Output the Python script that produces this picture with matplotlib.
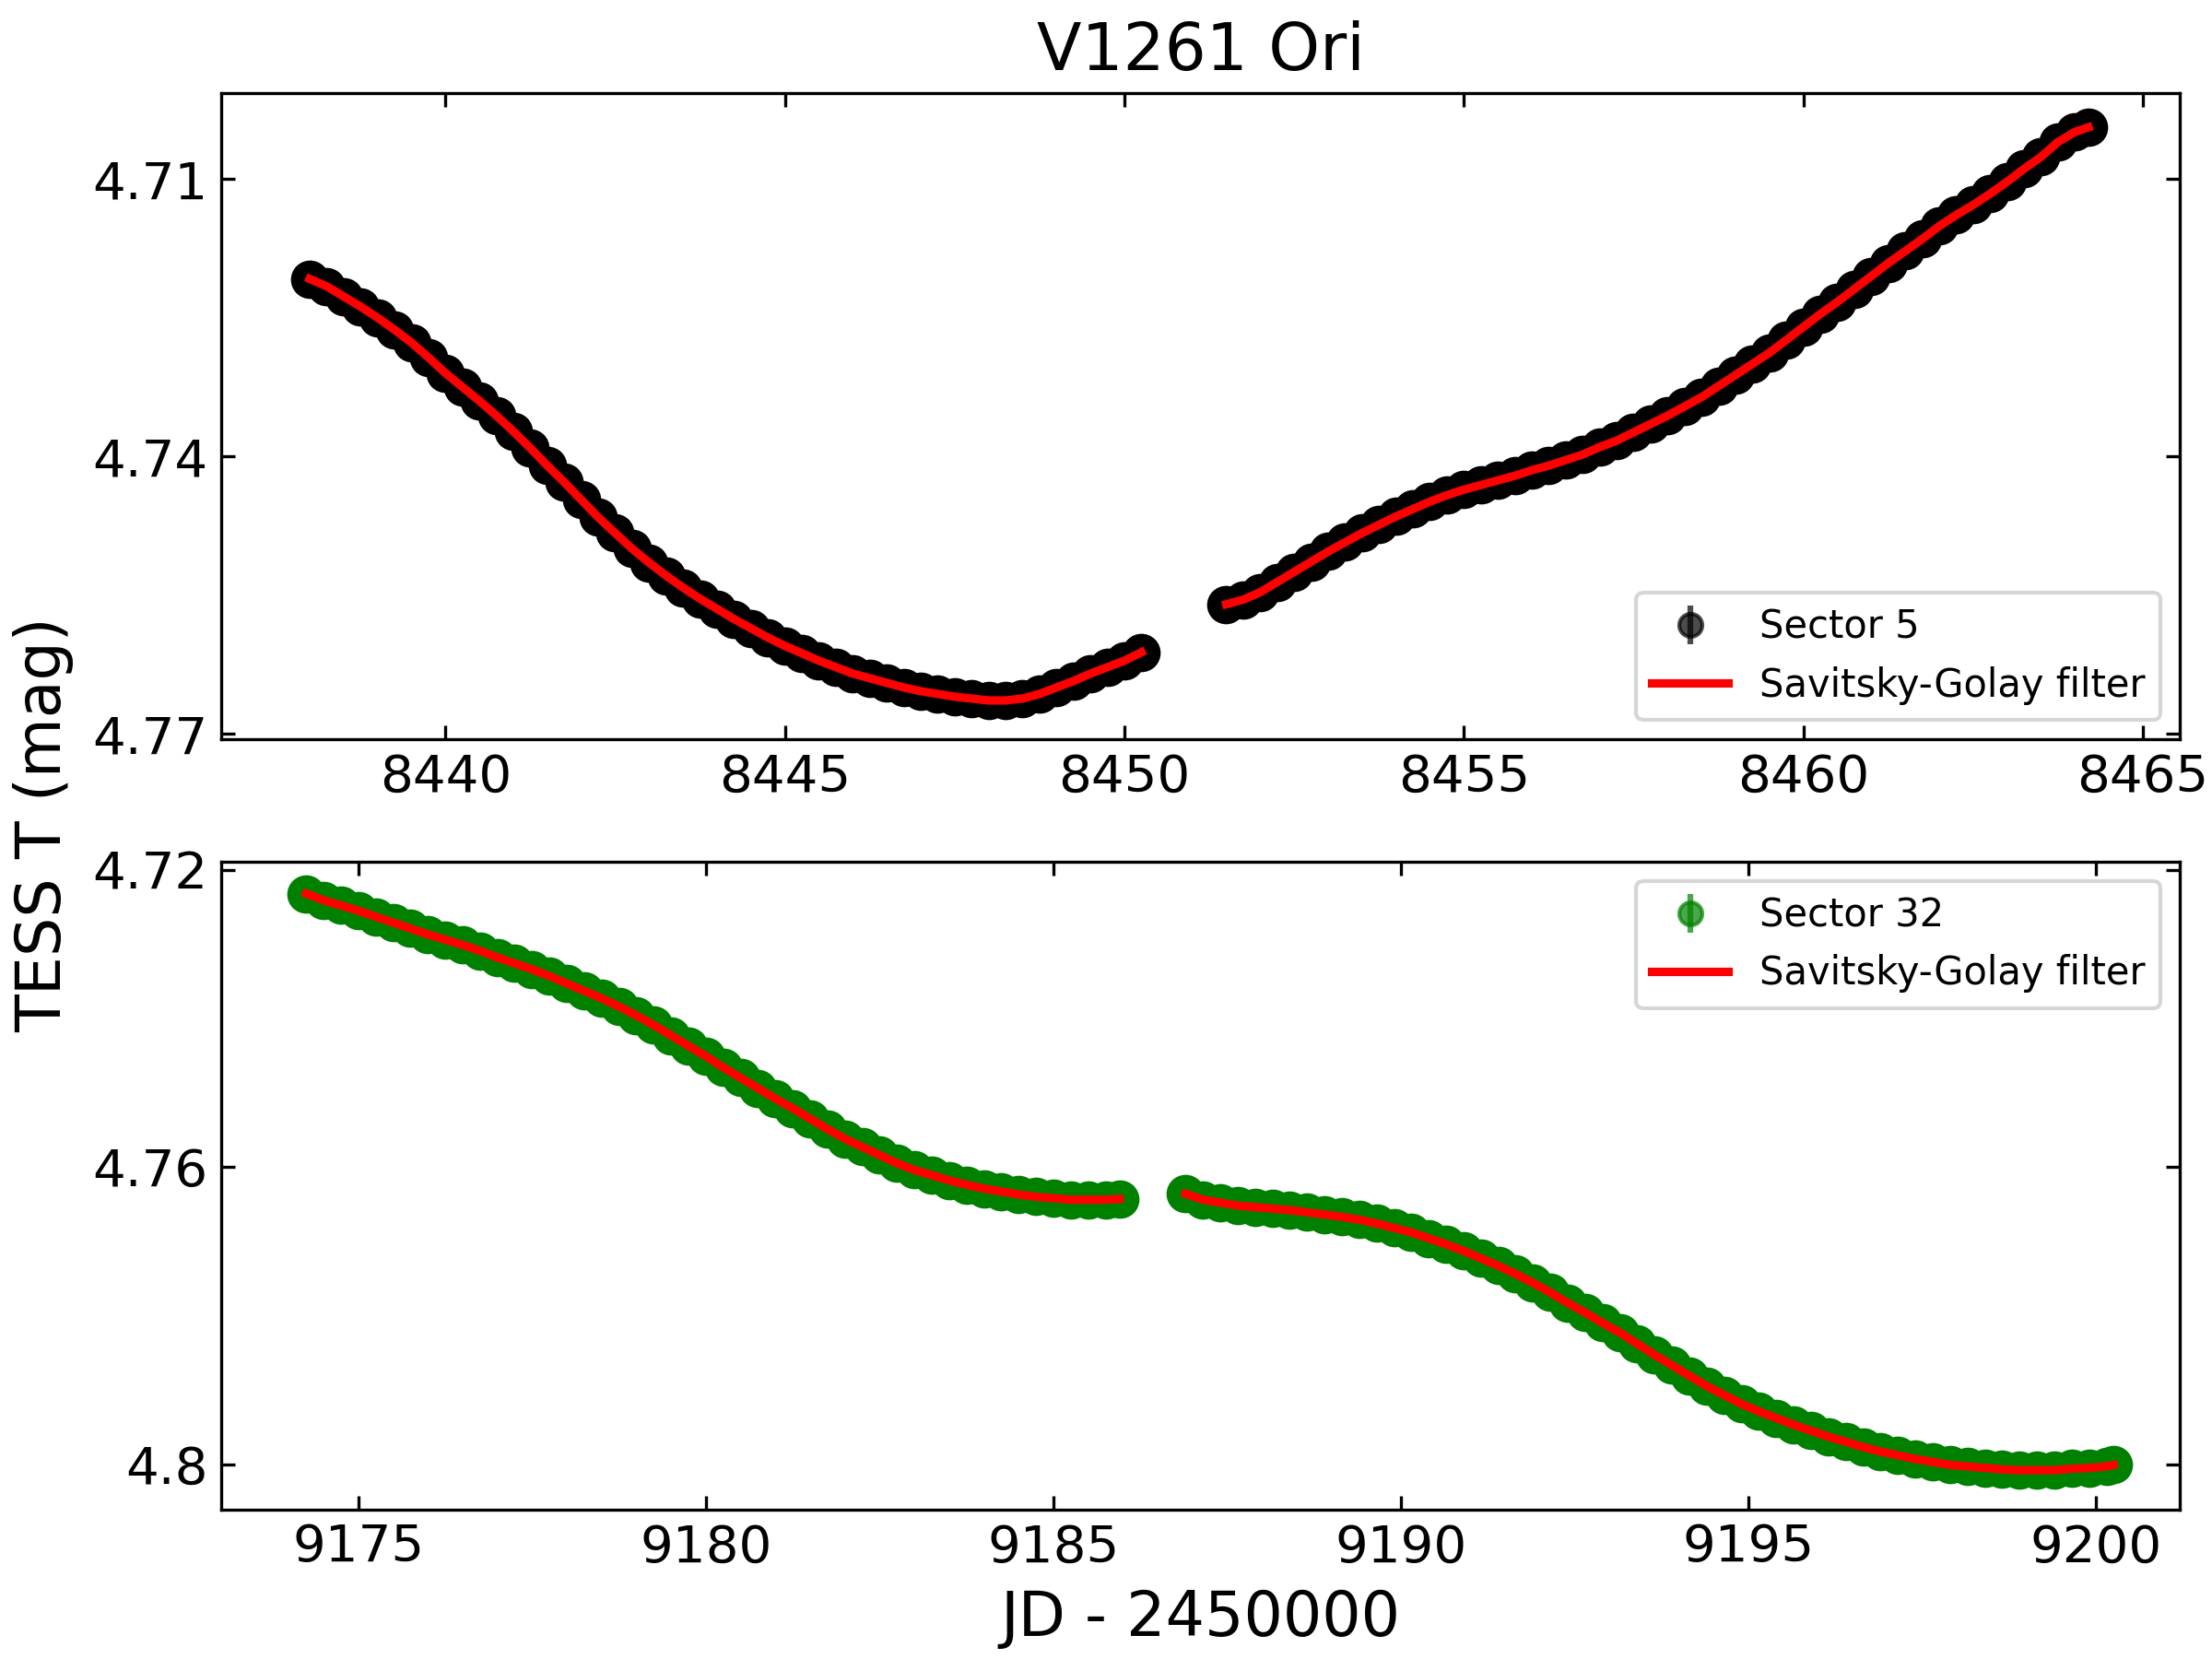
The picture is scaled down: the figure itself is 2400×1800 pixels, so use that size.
import matplotlib
matplotlib.use('Agg')
import matplotlib.pyplot as plt

# Sector 5, first orbit
t_s5a = [8438.00, 8438.25, 8438.50, 8438.75, 8439.00, 8439.25, 8439.50, 8439.75,
         8440.00, 8440.25, 8440.50, 8440.75, 8441.00, 8441.25, 8441.50, 8441.75,
         8442.00, 8442.25, 8442.50, 8442.75, 8443.00, 8443.25, 8443.50, 8443.75,
         8444.00, 8444.25, 8444.50, 8444.75, 8445.00, 8445.25, 8445.50, 8445.75,
         8446.00, 8446.25, 8446.50, 8446.75, 8447.00, 8447.25, 8447.50, 8447.75,
         8448.00, 8448.25, 8448.50, 8448.75, 8449.00, 8449.25, 8449.50, 8449.75,
         8450.00, 8450.25]
m_s5a = [4.7208, 4.7216, 4.7227, 4.7238, 4.7250, 4.7263, 4.7277, 4.7293,
         4.7310, 4.7325, 4.7340, 4.7356, 4.7373, 4.7391, 4.7410, 4.7428,
         4.7447, 4.7466, 4.7483, 4.7500, 4.7515, 4.7529, 4.7542, 4.7554,
         4.7565, 4.7576, 4.7586, 4.7596, 4.7605, 4.7613, 4.7621, 4.7628,
         4.7635, 4.7640, 4.7645, 4.7650, 4.7654, 4.7657, 4.7660, 4.7662,
         4.7664, 4.7664, 4.7662, 4.7657, 4.7650, 4.7643, 4.7635, 4.7628,
         4.7621, 4.7612]

# Sector 5, second orbit
t_s5b = [8451.50, 8451.75, 8452.00, 8452.25, 8452.50, 8452.75, 8453.00, 8453.25,
         8453.50, 8453.75, 8454.00, 8454.25, 8454.50, 8454.75, 8455.00, 8455.25,
         8455.50, 8455.75, 8456.00, 8456.25, 8456.50, 8456.75, 8457.00, 8457.25,
         8457.50, 8457.75, 8458.00, 8458.25, 8458.50, 8458.75, 8459.00, 8459.25,
         8459.50, 8459.75, 8460.00, 8460.25, 8460.50, 8460.75, 8461.00, 8461.25,
         8461.50, 8461.75, 8462.00, 8462.25, 8462.50, 8462.75, 8463.00, 8463.25,
         8463.50, 8463.75, 8464.00, 8464.20]
m_s5b = [4.7560, 4.7555, 4.7547, 4.7536, 4.7525, 4.7514, 4.7503, 4.7493,
         4.7483, 4.7474, 4.7465, 4.7457, 4.7449, 4.7442, 4.7436, 4.7431,
         4.7426, 4.7421, 4.7415, 4.7410, 4.7404, 4.7398, 4.7390, 4.7383,
         4.7374, 4.7365, 4.7356, 4.7346, 4.7336, 4.7324, 4.7312, 4.7300,
         4.7288, 4.7274, 4.7260, 4.7246, 4.7233, 4.7219, 4.7205, 4.7191,
         4.7178, 4.7165, 4.7151, 4.7139, 4.7128, 4.7116, 4.7103, 4.7089,
         4.7076, 4.7060, 4.7049, 4.7044]

# Sector 32, first orbit
t_s32a = [9174.25, 9174.50, 9174.75, 9175.00, 9175.25, 9175.50, 9175.75, 9176.00,
          9176.25, 9176.50, 9176.75, 9177.00, 9177.25, 9177.50, 9177.75, 9178.00,
          9178.25, 9178.50, 9178.75, 9179.00, 9179.25, 9179.50, 9179.75, 9180.00,
          9180.25, 9180.50, 9180.75, 9181.00, 9181.25, 9181.50, 9181.75, 9182.00,
          9182.25, 9182.50, 9182.75, 9183.00, 9183.25, 9183.50, 9183.75, 9184.00,
          9184.25, 9184.50, 9184.75, 9185.00, 9185.25, 9185.50, 9185.75, 9185.95]
m_s32a = [4.7232, 4.7241, 4.7248, 4.7255, 4.7263, 4.7271, 4.7279, 4.7287,
          4.7294, 4.7301, 4.7309, 4.7318, 4.7326, 4.7334, 4.7343, 4.7353,
          4.7363, 4.7373, 4.7384, 4.7396, 4.7409, 4.7423, 4.7437, 4.7451,
          4.7466, 4.7480, 4.7494, 4.7508, 4.7521, 4.7535, 4.7549, 4.7562,
          4.7573, 4.7584, 4.7595, 4.7604, 4.7611, 4.7618, 4.7624, 4.7629,
          4.7633, 4.7637, 4.7640, 4.7642, 4.7644, 4.7644, 4.7644, 4.7643]

# Sector 32, second orbit
t_s32b = [9186.90, 9187.15, 9187.40, 9187.65, 9187.90, 9188.15, 9188.40, 9188.65,
          9188.90, 9189.15, 9189.40, 9189.65, 9189.90, 9190.15, 9190.40, 9190.65,
          9190.90, 9191.15, 9191.40, 9191.65, 9191.90, 9192.15, 9192.40, 9192.65,
          9192.90, 9193.15, 9193.40, 9193.65, 9193.90, 9194.15, 9194.40, 9194.65,
          9194.90, 9195.15, 9195.40, 9195.65, 9195.90, 9196.15, 9196.40, 9196.65,
          9196.90, 9197.15, 9197.40, 9197.65, 9197.90, 9198.15, 9198.40, 9198.65,
          9198.90, 9199.15, 9199.40, 9199.65, 9199.90, 9200.15, 9200.25]
m_s32b = [4.7636, 4.7644, 4.7648, 4.7652, 4.7654, 4.7656, 4.7658, 4.7661,
          4.7664, 4.7667, 4.7671, 4.7676, 4.7682, 4.7688, 4.7696, 4.7704,
          4.7713, 4.7723, 4.7733, 4.7744, 4.7756, 4.7769, 4.7783, 4.7796,
          4.7810, 4.7823, 4.7838, 4.7853, 4.7867, 4.7881, 4.7895, 4.7907,
          4.7919, 4.7929, 4.7938, 4.7947, 4.7955, 4.7963, 4.7970, 4.7977,
          4.7983, 4.7988, 4.7993, 4.7997, 4.8001, 4.8003, 4.8005, 4.8007,
          4.8008, 4.8008, 4.8008, 4.8006, 4.8005, 4.8003, 4.8001]

mag_err = 0.0003

yticks_s5 = [4.71, 4.74, 4.77]
yticks_s32 = [4.72, 4.76, 4.80]
xticks_s5 = [8440, 8445, 8450, 8455, 8460, 8465]
xticks_s32 = [9175, 9180, 9185, 9190, 9195, 9200]

plt.rcParams['font.family'] = ['DejaVu Sans']

fig = plt.figure(figsize=(8, 6), dpi=300)
ax1 = fig.add_axes([0.1001, 0.5544, 0.8852, 0.3895])
ax2 = fig.add_axes([0.1001, 0.0901, 0.8852, 0.3905])


def draw_sector(ax, segs, color, label, loc):
    for t, m in segs:
        # thousands of 2-min points overlap into an opaque band
        ax.errorbar(t, m, yerr=[mag_err] * len(t), fmt='o', color=color,
                    ms=9, elinewidth=1.5, zorder=2)
        ax.plot(t, m, '-', color='red', lw=2.2, zorder=3)
    # legend entries as drawn in the original (semi-transparent point)
    eb = ax.errorbar([], [], yerr=[], fmt='o', color=color, ms=6,
                     alpha=0.7, elinewidth=1.5)
    ln, = ax.plot([], [], '-', color='red', lw=2.2)
    ax.legend([eb, ln], [label, 'Savitsky-Golay filter'], fontsize=10, loc=loc)


draw_sector(ax1, [(t_s5a, m_s5a), (t_s5b, m_s5b)], 'k', 'Sector 5', 'lower right')
draw_sector(ax2, [(t_s32a, m_s32a), (t_s32b, m_s32b)], 'g', 'Sector 32', 'upper right')

ax1.set_xlim(8436.70, 8465.54)
ax1.set_ylim(4.7706, 4.7007)
ax1.set_xticks(xticks_s5)
ax1.set_yticks(yticks_s5)
ax1.set_yticklabels(['4.71', '4.74', '4.77'])
ax1.set_title('V1261 Ori', fontsize=17)

ax2.set_xlim(9173.03, 9201.20)
ax2.set_ylim(4.8061, 4.7189)
ax2.set_xticks(xticks_s32)
ax2.set_yticks(yticks_s32)
ax2.set_yticklabels(['4.72', '4.76', '4.8'])
ax2.set_xlabel('JD - 2450000', fontsize=16)

for ax in (ax1, ax2):
    ax.tick_params(direction='in', top=True, right=True, labelsize=13.5)

fig.text(0.0195, 0.503, 'TESS T (mag)', rotation=90, fontsize=16,
         ha='center', va='center')

fig.savefig('out.png', dpi=300)
